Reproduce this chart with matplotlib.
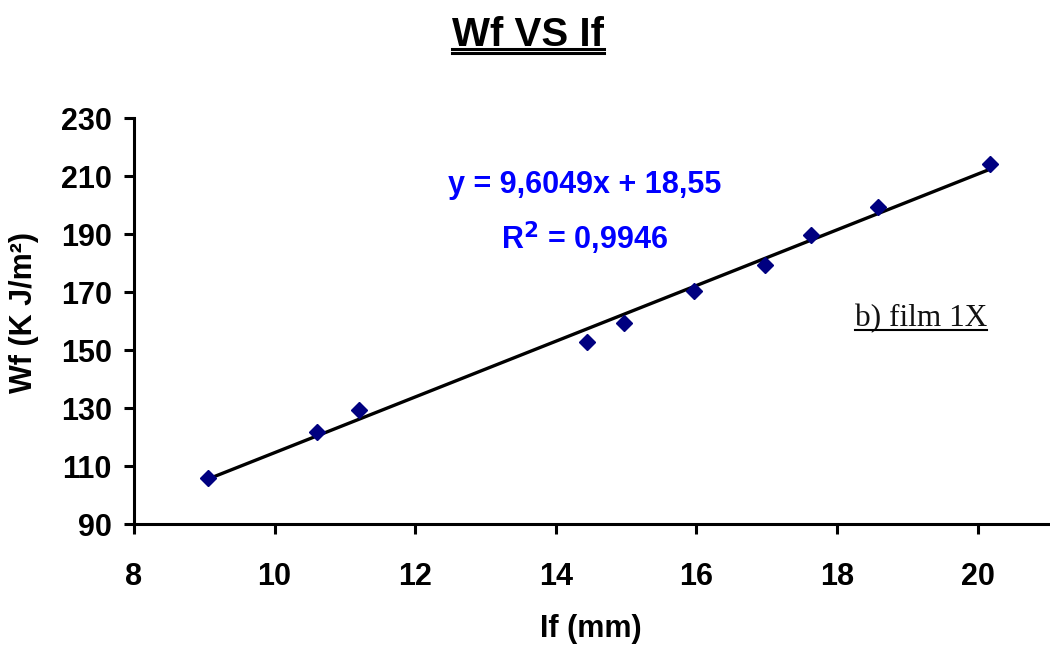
import numpy as np
import matplotlib
matplotlib.use('Agg')
import matplotlib.pyplot as plt
from matplotlib.lines import Line2D

# Data
lf_mm = [9.05, 10.6, 11.2, 14.45, 14.97, 15.97, 16.97, 17.63, 18.58, 20.18]
wf_kj = [105.8, 121.6, 129.3, 152.9, 159.4, 170.4, 179.3, 189.6, 199.3, 214.1]
slope = 9.6049
intercept = 18.55
r2_text = '0,9946'
x_ticks = [8, 10, 12, 14, 16, 18, 20]
y_ticks = [90, 110, 130, 150, 170, 190, 210, 230]

plt.rcParams['font.family'] = ['Liberation Sans', 'DejaVu Sans']
plt.rcParams['font.weight'] = 'bold'

fig = plt.figure(figsize=(10.5, 6.52), dpi=100)
ax = fig.add_axes([0.1276, 0.1963, 0.8704, 0.6227])

# points
ax.plot(lf_mm, wf_kj, linestyle='none', marker='D', markersize=8,
        color='#000080', zorder=3)

# linear trendline over the data range
xs = np.array([min(lf_mm), max(lf_mm)])
ax.plot(xs, slope * xs + intercept, color='black', linewidth=2.4, zorder=2)

ax.set_xlim(8, 21)
ax.set_ylim(90, 230)
ax.set_xticks(x_ticks)
ax.set_yticks(y_ticks)
ax.tick_params(axis='both', direction='out', length=7, width=2.2,
               labelsize=22)
ax.tick_params(axis='x', pad=20)
ax.tick_params(axis='y', pad=9)
for lab in ax.get_xticklabels() + ax.get_yticklabels():
    lab.set_fontweight('bold')
ax.spines['top'].set_visible(False)
ax.spines['right'].set_visible(False)
for s in ['left', 'bottom']:
    ax.spines[s].set_linewidth(2.2)

ax.set_xlabel('If (mm)', fontsize=22, fontweight='bold')
ax.xaxis.set_label_coords(0.5, -0.222)
ax.set_ylabel('Wf (K J/m²)', fontsize=22, fontweight='bold')
ax.yaxis.set_label_coords(-0.104, 0.52)

# trendline equation
ax.text(0.493, 0.835, 'y = 9,6049x + 18,55', transform=ax.transAxes,
        ha='center', va='center', color='#0000ff', fontsize=22, fontweight='bold')
ax.text(0.493, 0.705, r'R$^{\mathbf{2}}$ = ' + r2_text, transform=ax.transAxes,
        ha='center', va='center', color='#0000ff', fontsize=22, fontweight='bold')

note = ax.text(0.861, 0.488, 'b) film 1X', transform=ax.transAxes, ha='center',
               va='baseline', fontsize=22.5, fontweight='normal',
               family=['Liberation Serif', 'DejaVu Serif'], color='#111111')

title = fig.text(0.503, 0.93, 'Wf VS If', ha='center', va='baseline',
                 fontsize=29, fontweight='bold')

# underlines drawn under the text extents
fig.canvas.draw()
r = fig.canvas.get_renderer()
inv = fig.transFigure.inverted()

bb = title.get_window_extent(r)
(x0, y0), (x1, y1) = inv.transform([[bb.x0, bb.y0], [bb.x1, bb.y1]])
base = title.get_position()[1]
for off in [0.005, 0.0115]:
    fig.add_artist(Line2D([x0, x1], [base - off, base - off], color='black',
                          linewidth=2.2, transform=fig.transFigure))

bb = note.get_window_extent(r)
(x0, y0), (x1, y1) = inv.transform([[bb.x0, bb.y0], [bb.x1, bb.y1]])
nb = ax.transAxes.transform(note.get_position())
nb = inv.transform(nb)[1]
fig.add_artist(Line2D([x0, x1], [nb - 0.006, nb - 0.006], color='black',
                      linewidth=1.5, transform=fig.transFigure))

fig.savefig('out.png', dpi=100)
